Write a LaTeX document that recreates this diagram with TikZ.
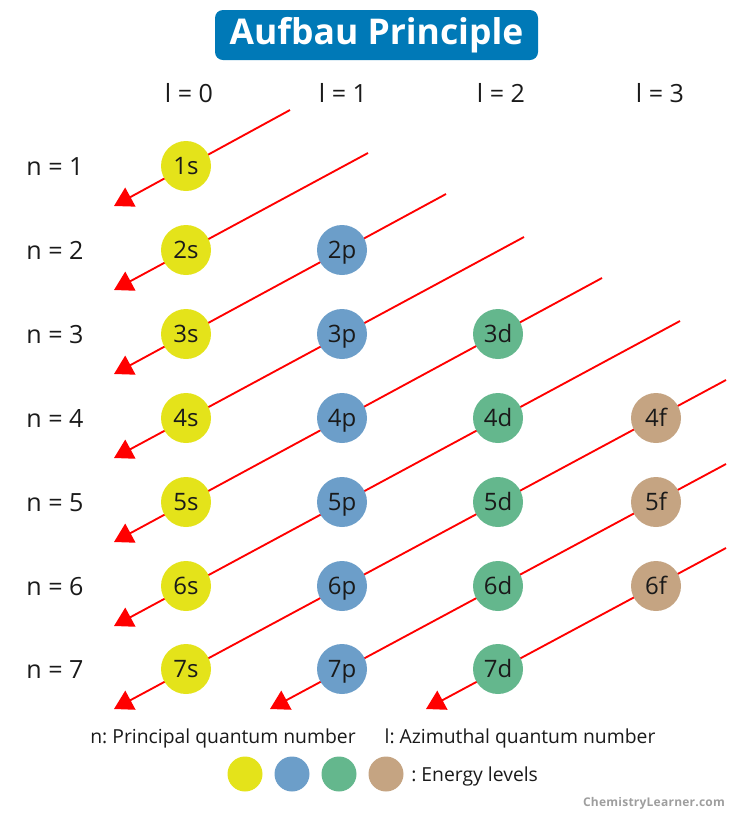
\documentclass[tikz,border=0pt]{standalone}
\usepackage{fontspec}
\setmainfont{Open Sans}
\usetikzlibrary{arrows.meta,backgrounds,calc}
\frenchspacing

\definecolor{sorbital}{RGB}{228,227,26}
\definecolor{porbital}{RGB}{108,158,201}
\definecolor{dorbital}{RGB}{100,183,141}
\definecolor{forbital}{RGB}{197,164,130}
\definecolor{titleblue}{RGB}{0,121,183}
\definecolor{textgrey}{RGB}{26,26,26}

\begin{document}
\begin{tikzpicture}[
		x=0.75pt,
		y=-0.75pt,
		orbital/.style={
			circle,
			minimum size=37.5pt,
			inner sep=0pt,
			text=textgrey,
			text height=12.9pt,
			text depth=0pt,
			font=\fontsize{18}{20}\selectfont,
		},
		s orbital/.style={orbital, fill=sorbital},
		p orbital/.style={orbital, fill=porbital},
		d orbital/.style={orbital, fill=dorbital},
		f orbital/.style={orbital, fill=forbital},
		quantum/.style={
			text=textgrey,
			text height=13.4pt,
			text depth=0pt,
			font=\fontsize{18.8}{20}\selectfont,
		},
		filling/.style={
			red,
			line width=1.4pt,
			-{Triangle[length=14pt,width=16pt]},
		},
		swatch/.style={circle, minimum size=26.25pt, inner sep=0pt},
		note/.style={
			text=textgrey,
			font=\fontsize{14.5}{16}\selectfont,
		},
	]
		\useasboundingbox (0,0) rectangle (750,815);

		\node[fill=titleblue, rounded corners=6pt, minimum width=242.25pt, minimum height=37.5pt, text=white, font=\fontsize{26.6}{28}\selectfont\bfseries] (title) at (376.5,35) {Aufbau Principle};

		\node[quantum] (l0) at (189,94) {l = 0};
		\node[quantum] (l1) at (343,94) {l = 1};
		\node[quantum] (l2) at (501,94) {l = 2};
		\node[quantum] (l3) at (660,94) {l = 3};

		\node[quantum] (n1) at (55,167) {n = 1};
		\node[quantum] (n2) at (55,251) {n = 2};
		\node[quantum] (n3) at (55,335) {n = 3};
		\node[quantum] (n4) at (55,419) {n = 4};
		\node[quantum] (n5) at (55,503) {n = 5};
		\node[quantum] (n6) at (55,587) {n = 6};
		\node[quantum] (n7) at (55,670) {n = 7};

		\node[s orbital] (1s) at (186,166) {1s};
		\node[s orbital] (2s) at (186,250) {2s};
		\node[s orbital] (3s) at (186,334) {3s};
		\node[s orbital] (4s) at (186,418) {4s};
		\node[s orbital] (5s) at (186,502) {5s};
		\node[s orbital] (6s) at (186,586) {6s};
		\node[s orbital] (7s) at (186,669) {7s};
		\node[p orbital] (2p) at (342,250) {2p};
		\node[p orbital] (3p) at (342,334) {3p};
		\node[p orbital] (4p) at (342,418) {4p};
		\node[p orbital] (5p) at (342,502) {5p};
		\node[p orbital] (6p) at (342,586) {6p};
		\node[p orbital] (7p) at (342,669) {7p};
		\node[d orbital] (3d) at (498,334) {3d};
		\node[d orbital] (4d) at (498,418) {4d};
		\node[d orbital] (5d) at (498,502) {5d};
		\node[d orbital] (6d) at (498,586) {6d};
		\node[d orbital] (7d) at (498,669) {7d};
		\node[f orbital] (4f) at (656,418) {4f};
		\node[f orbital] (5f) at (656,502) {5f};
		\node[f orbital] (6f) at (656,586) {6f};

		\coordinate (start1) at ($(1s)+(104,-56)$);
		\coordinate (start2) at ($(2s)+(182,-97)$);
		\coordinate (start3) at ($(2p)+(104,-56)$);
		\coordinate (start4) at ($(3p)+(182,-97)$);
		\coordinate (start5) at ($(3d)+(104,-56)$);
		\coordinate (start6) at ($(4d)+(182,-97)$);
		\coordinate (start7) at ($(4f)+(70,-38)$);
		\coordinate (start8) at ($(5f)+(70,-38)$);
		\coordinate (start9) at ($(6f)+(70,-38)$);
		\coordinate (end1) at ($(1s)+(-72,40)$);
		\coordinate (end2) at ($(2s)+(-72,40)$);
		\coordinate (end3) at ($(3s)+(-72,40)$);
		\coordinate (end4) at ($(4s)+(-72,40)$);
		\coordinate (end5) at ($(5s)+(-72,40)$);
		\coordinate (end6) at ($(6s)+(-72,40)$);
		\coordinate (end7) at ($(7s)+(-72,40)$);
		\coordinate (end8) at ($(7p)+(-72,40)$);
		\coordinate (end9) at ($(7d)+(-72,40)$);

		\begin{scope}[on background layer]
			\draw[filling] (start1) -- (end1);
			\draw[filling] (start2) -- (end2);
			\draw[filling] (start3) -- (end3);
			\draw[filling] (start4) -- (end4);
			\draw[filling] (start5) -- (end5);
			\draw[filling] (start6) -- (end6);
			\draw[filling] (start7) -- (end7);
			\draw[filling] (start8) -- (end8);
			\draw[filling] (start9) -- (end9);
		\end{scope}

		\node[note, anchor=base] (principal) at (223,743) {n: Principal quantum number};
		\node[note, anchor=base] (azimuthal) at (520,743) {l: Azimuthal quantum number};

		\node[swatch, fill=sorbital] (key s) at (245,774) {};
		\node[swatch, fill=porbital] (key p) at (292,774) {};
		\node[swatch, fill=dorbital] (key d) at (339,774) {};
		\node[swatch, fill=forbital] (key f) at (386,774) {};
		\node[note, anchor=base west, inner sep=0pt] (levels) at (411,781) {: Energy levels};

		\node[anchor=base, text=black!38, font=\fontsize{9}{10}\selectfont\bfseries\addfontfeature{LetterSpace=2}] (site) at (654,806) {ChemistryLearner.com};
	\end{tikzpicture}
\end{document}
